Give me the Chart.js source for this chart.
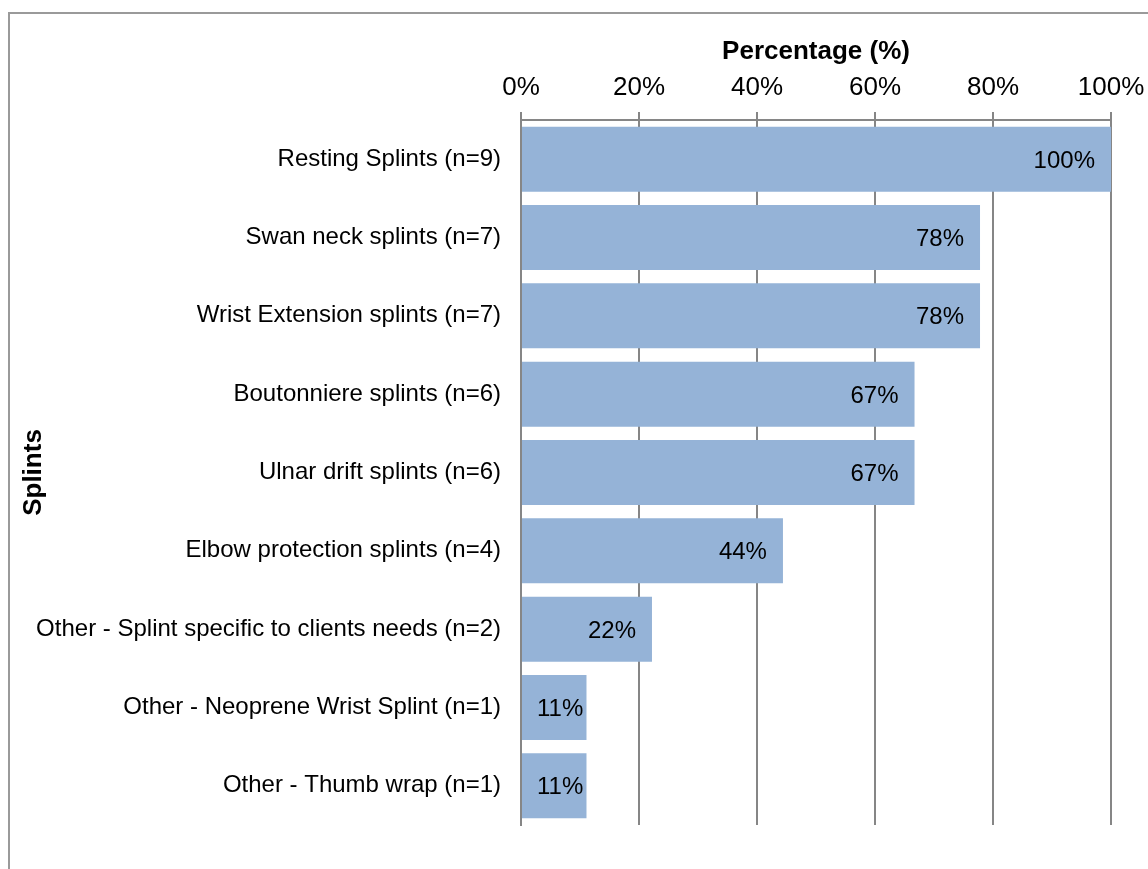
<!DOCTYPE html>
<html>
<head>
<meta charset="utf-8">
<title>Splints</title>
<script src="https://cdn.jsdelivr.net/npm/chart.js@4.4.1/dist/chart.umd.min.js"></script>
<style>
  html, body { margin: 0; padding: 0; background: #ffffff; }
  #wrap { position: relative; width: 1148px; height: 869px; overflow: hidden; }
  #frame {
    position: absolute; left: 8px; top: 12px; width: 1200px; height: 900px;
    border: 2px solid #9a9a9a; box-sizing: border-box; pointer-events: none;
  }
  #chart { position: absolute; left: 0; top: 0; }
</style>
</head>
<body>
<div id="wrap">
  <div id="frame"></div>
  <canvas id="chart" width="1148" height="869"></canvas>
</div>
<script>
// Splint types, top to bottom
const categories = [
  'Resting Splints (n=9)',
  'Swan neck splints (n=7)',
  'Wrist Extension splints (n=7)',
  'Boutonniere splints (n=6)',
  'Ulnar drift splints (n=6)',
  'Elbow protection splints (n=4)',
  'Other - Splint specific to clients needs (n=2)',
  'Other - Neoprene Wrist Splint (n=1)',
  'Other - Thumb wrap (n=1)'
];

// Share of respondents using each splint (%)
const percentages = [100, 77.8, 77.8, 66.7, 66.7, 44.4, 22.2, 11.1, 11.1];

// Axis ticks (%)
const tickValues = [0, 20, 40, 60, 80, 100];

const xTitle = 'Percentage (%)';
const yTitle = 'Splints';

const FONT = '"Liberation Sans", Arial, Helvetica, sans-serif';
const GRID = '#868686';

// Value labels written inside the end of each bar
const barValueLabels = {
  id: 'barValueLabels',
  afterDatasetsDraw(chart) {
    const ctx = chart.ctx;
    const meta = chart.getDatasetMeta(0);
    const data = chart.data.datasets[0].data;
    ctx.save();
    ctx.font = '24px ' + FONT;
    ctx.fillStyle = '#000000';
    ctx.textAlign = 'left';
    ctx.textBaseline = 'middle';
    meta.data.forEach((bar, i) => {
      const text = Math.round(data[i]) + '%';
      const w = ctx.measureText(text).width;
      let left = bar.x - 16 - w;
      const minLeft = bar.base + 15;
      if (left < minLeft) left = minLeft;
      ctx.fillText(text, left, bar.y + 2);
    });
    ctx.restore();
  }
};

new Chart(document.getElementById('chart'), {
  type: 'bar',
  data: {
    labels: categories,
    datasets: [{
      data: percentages,
      backgroundColor: '#95B3D7',
      borderWidth: 0,
      barPercentage: 1.0,
      categoryPercentage: 0.83
    }]
  },
  options: {
    indexAxis: 'y',
    responsive: false,
    animation: false,
    layout: { padding: { left: 18, top: 12, right: 37, bottom: 44 } },
    plugins: {
      legend: { display: false },
      tooltip: { enabled: false }
    },
    scales: {
      x: {
        position: 'top',
        min: 0,
        max: 100,
        afterBuildTicks(axis) {
          axis.ticks = tickValues.map(v => ({ value: v }));
        },
        afterFit(axis) {
          axis.height = 108;
          axis.paddingLeft = 0;
          axis.paddingRight = 0;
        },
        ticks: {
          callback: v => v + '%',
          color: '#000000',
          font: { family: FONT, size: 26 },
          padding: 9,
          maxRotation: 0
        },
        grid: {
          color: GRID,
          lineWidth: 2,
          drawTicks: true,
          tickLength: 8,
          tickColor: GRID
        },
        border: { display: true, color: GRID, width: 2 },
        title: {
          display: true,
          text: xTitle,
          color: '#000000',
          font: { family: FONT, size: 26, weight: 'bold' },
          padding: { top: 24, bottom: 0 }
        }
      },
      y: {
        afterFit(axis) {
          axis.width = 503;
          axis.paddingTop = 0;
          axis.paddingBottom = 0;
        },
        ticks: {
          color: '#000000',
          font: { family: FONT, size: 24 },
          padding: 20
        },
        grid: { display: false, drawTicks: false },
        border: { display: true, color: GRID, width: 2 },
        title: {
          display: true,
          text: yTitle,
          color: '#000000',
          font: { family: FONT, size: 26, weight: 'bold' },
          padding: { top: 0, bottom: 0 }
        }
      }
    }
  },
  plugins: [barValueLabels]
});
</script>
</body>
</html>
